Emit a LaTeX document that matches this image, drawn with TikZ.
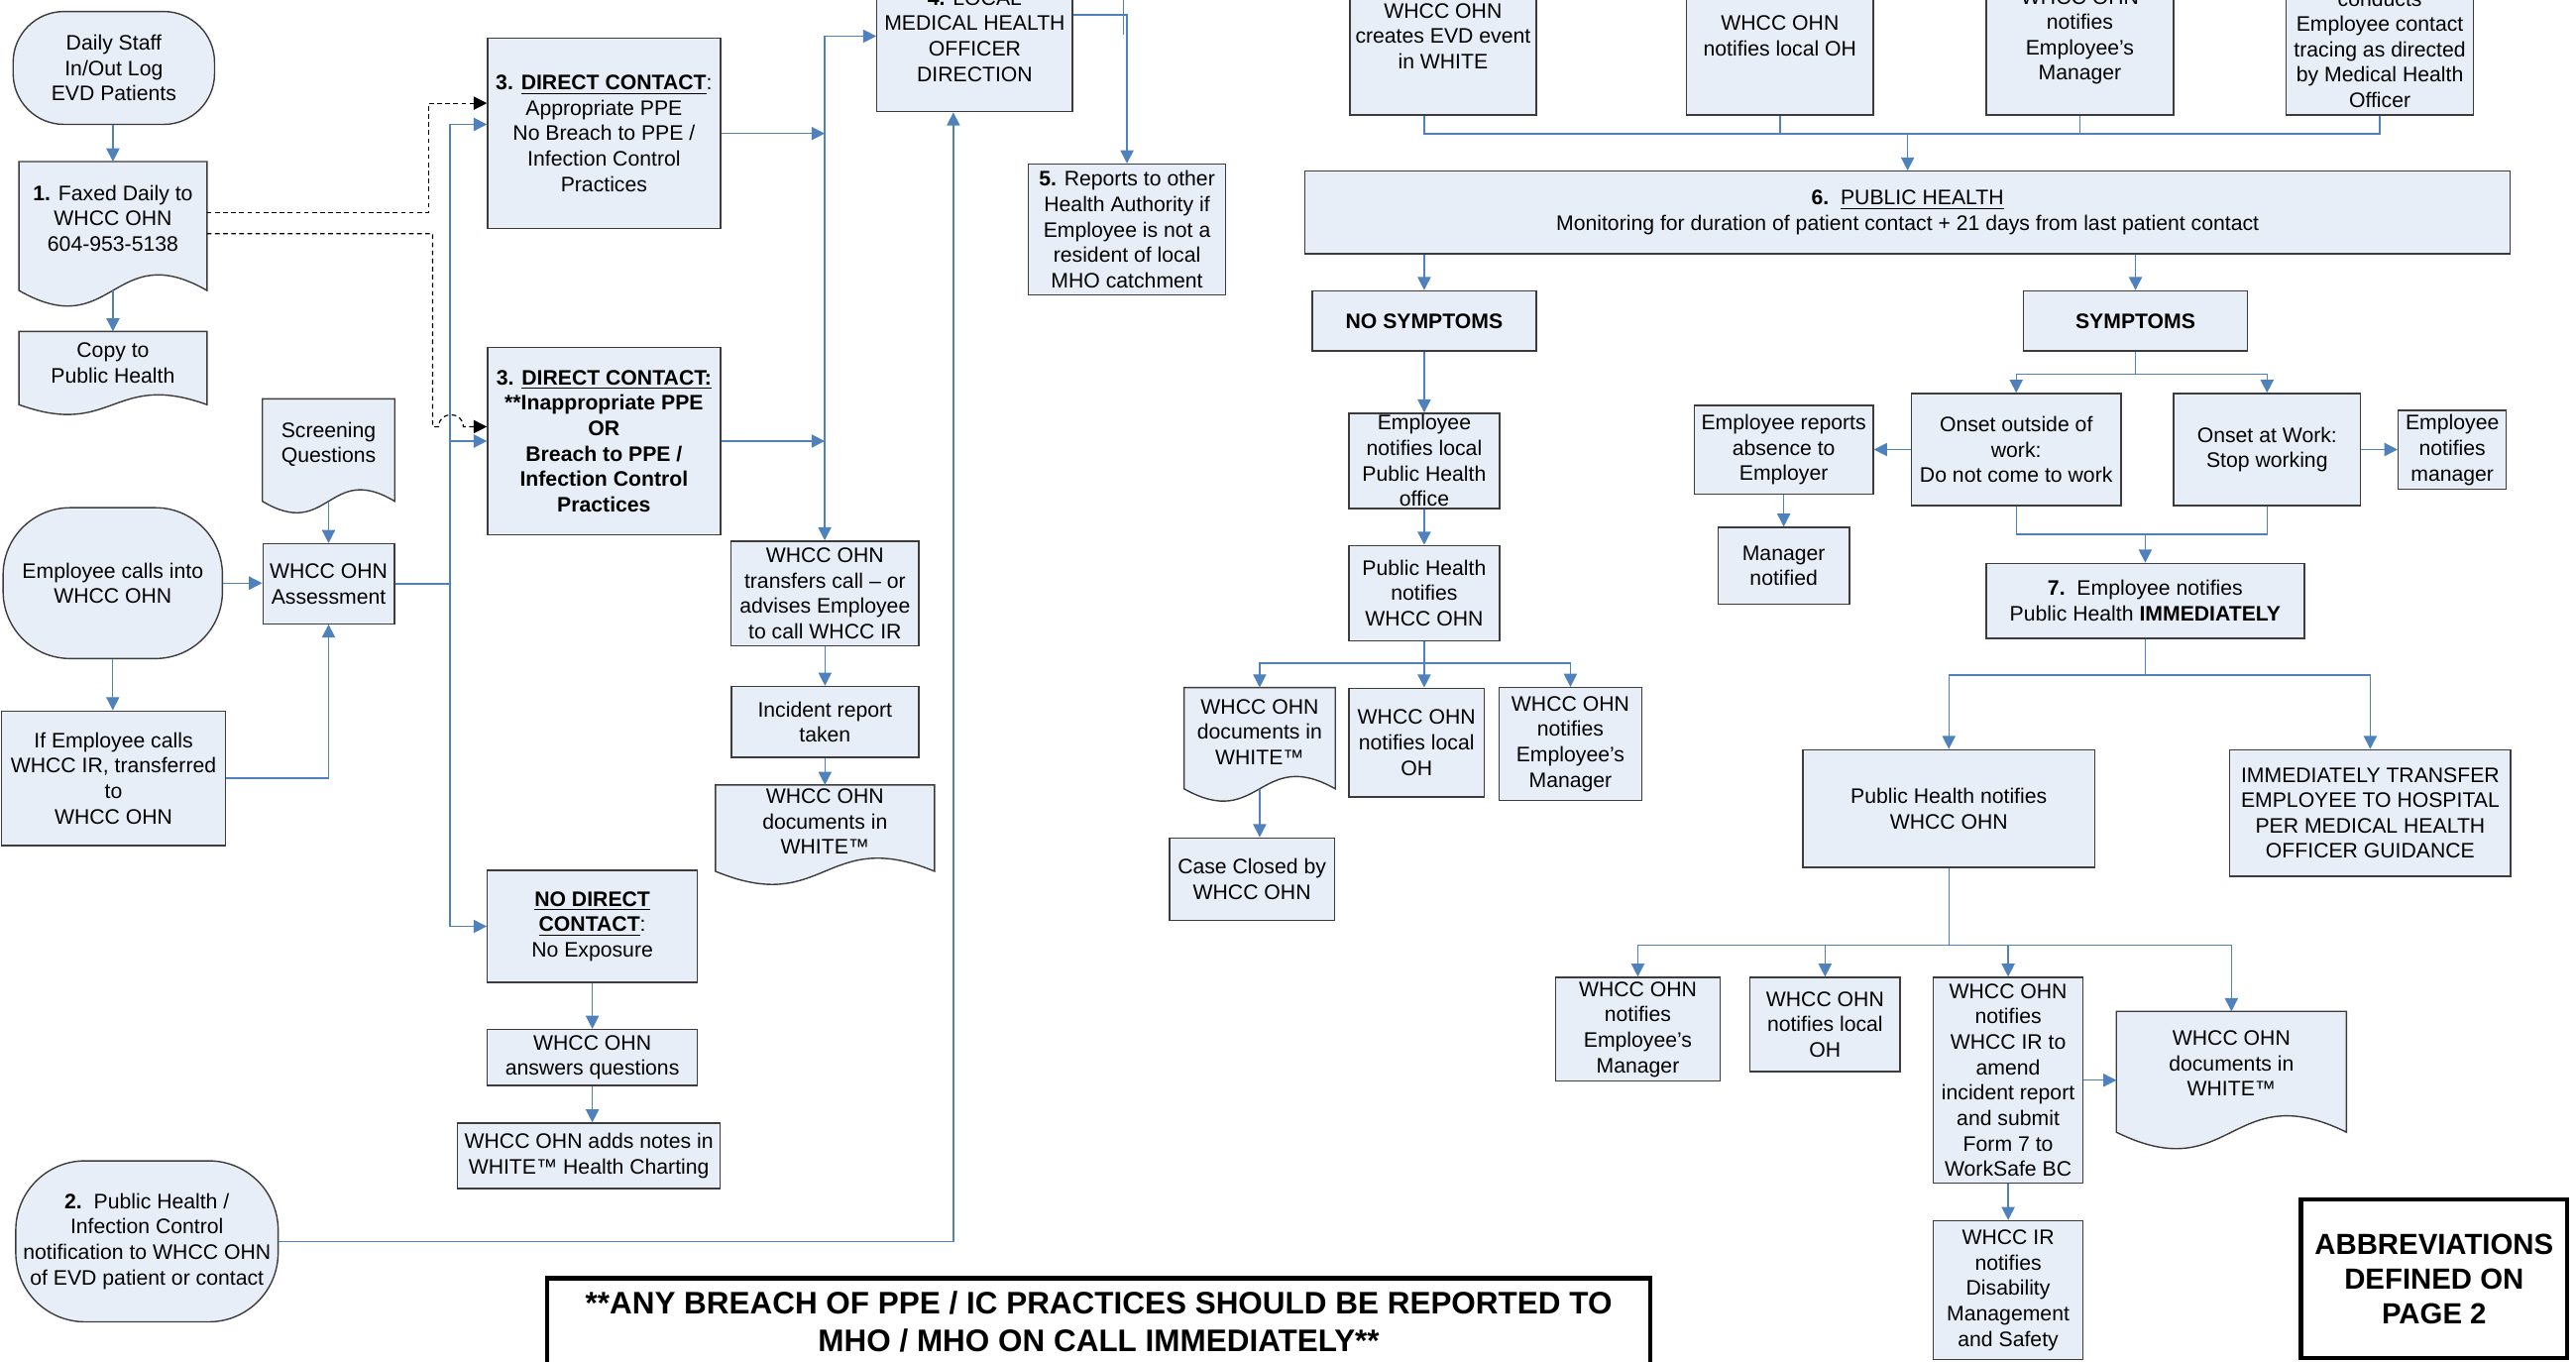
\documentclass[tikz,border=0pt]{standalone}
\usepackage{fontspec}
\setmainfont{Liberation Sans}
\usepackage{xcolor}
\usepackage{tikz}
\usetikzlibrary{arrows.meta,calc,backgrounds}
\definecolor{BoxFill}{HTML}{E8EEF8}
\definecolor{BoxEdge}{HTML}{3C3C3C}
\definecolor{LineBlue}{HTML}{4F81BD}
\newcommand{\nodefont}{\fontsize{9.1}{11}\selectfont}
% document shape: wavy bottom under a named node
\newcommand{\docoutline}[2]{%
  \begin{scope}[on background layer]
    \draw[docedge] (#1.north west) -- (#1.north east) -- ($(#1.south east)+(0,#2)$)
      .. controls ($(#1.south)+(0,{#2-3.46*#2})$) and ($(#1.south)+(0,{#2+3.46*#2})$) .. ($(#1.south west)+(0,#2)$) -- cycle;
  \end{scope}}

\begin{document}
\begin{tikzpicture}[
      x=0.25mm, y=-0.25mm,
      every node/.style={align=center, font=\nodefont, inner sep=1pt},
      wh/.style 2 args={minimum width=#1*0.25mm, minimum height=#2*0.25mm},
      box/.style={draw=BoxEdge, fill=BoxFill, line width=0.6pt},
      term/.style={box, rounded corners=#1},
      docnode/.style={},
      docedge/.style={draw=BoxEdge, fill=BoxFill, line width=0.6pt},
      heavy/.style={draw=black, fill=white, line width=2pt},
      link/.style={LineBlue, line width=0.6pt},
      arrow/.style={link, -{Triangle[length=2mm, width=2mm]}},
      dasharrow/.style={black, line width=0.5pt, dash pattern=on 2pt off 1.5pt, -{Triangle[length=2mm, width=2mm]}}
    ]
      \useasboundingbox (0,0) rectangle (1568,828.35);
      \clip (0,0) rectangle (1568,828.35);
      % Intake column
      \node[term=22pt, wh={122.6}{68.7}] (daily) at (69.3,41.35) {Daily Staff\\In/Out Log\\EVD Patients};
      \node[docnode, wh={113.9}{68.4}] (fax) at (68.75,132.8) {\textbf{1.} Faxed Daily to\\WHCC OHN\\604-953-5138};
      \docoutline{fax}{9.5}
      \node[docnode, wh={113.9}{38}] (copyph) at (68.75,221) {Copy to\\Public Health};
      \docoutline{copyph}{6}
      \node[docnode, wh={80}{54.8}] (screen) at (200,270.4) {Screening\\Questions};
      \docoutline{screen}{7}
      \node[term=29pt, wh={133.5}{91.8}] (caller) at (68.65,354.9) {Employee calls into\\WHCC OHN};
      \node[box, wh={80}{48.6}] (assess) at (200,355.3) {WHCC OHN\\Assessment};
      \node[box, wh={136.6}{81.9}] (ifcall) at (69.1,473.65) {If Employee calls\\WHCC IR, transferred\\to\\WHCC OHN};
      \node[term=30pt, wh={159.7}{98}] (phic) at (89.45,755.5) {\textbf{2.}\ \ Public Health /\\Infection Control\\notification to WHCC OHN\\of EVD patient or contact};
      % Contact boxes
      \node[box, wh={141.7}{115.9}] (s3a) at (367.65,81.25) {\textbf{3. \underline{DIRECT CONTACT}}:\\Appropriate PPE\\No Breach to PPE /\\Infection Control\\Practices};
      \node[box, wh={141.7}{114.3}, font=\nodefont\bfseries] (s3b) at (367.65,268.45) {3. \underline{DIRECT CONTACT:}\\**Inappropriate PPE\\OR\\Breach to PPE /\\Infection Control\\Practices};
      \node[box, wh={127.7}{68.2}] (ndc) at (360.55,563.8) {\textbf{\underline{NO DIRECT}}\\\textbf{\underline{CONTACT}}:\\No Exposure};
      \node[box, wh={127.7}{34}] (answers) at (360.55,643.6) {WHCC OHN\\answers questions};
      \node[box, wh={159.7}{39.7}] (notes) at (358.45,703.45) {WHCC OHN adds notes in\\WHITE™ Health Charting};
      % MHO column
      \node[box, wh={119}{92}] (lmho) at (593.3,22) {\textbf{4.} LOCAL\\MEDICAL HEALTH\\OFFICER\\DIRECTION};
      \node[box, wh={120}{79.6}] (rep5) at (686,139.7) {\textbf{5.} Reports to other\\Health Authority if\\Employee is not a\\resident of local\\MHO catchment};
      \node[box, wh={114.3}{63.7}] (transfers) at (502.15,361.15) {WHCC OHN\\transfers call – or\\advises Employee\\to call WHCC IR};
      \node[box, wh={114}{43.2}] (incident) at (502.15,439.4) {Incident report\\taken};
      \node[docnode, wh={132.8}{44}] (docs1) at (502.15,500) {WHCC OHN\\documents in\\WHITE™};
      \docoutline{docs1}{8}
      % Top row
      \node[box, wh={113.3}{96}] (evd) at (878.35,22) {WHCC OHN\\creates EVD event\\in WHITE};
      \node[box, wh={113.5}{96}] (loh1) at (1083.45,22) {WHCC OHN\\notifies local OH};
      \node[box, wh={114}{95}] (mgr1) at (1266,22.5) {WHCC OHN\\notifies\\Employee’s\\Manager};
      \node[box, wh={114}{80}] (trace) at (1448.6,30) {conducts\\Employee contact\\tracing as directed\\by Medical Health\\Officer};
      \node[box, wh={733.7}{50.3}] (ph6) at (1161.15,129.35) {\textbf{6.}\ \ \underline{PUBLIC HEALTH}\\Monitoring for duration of patient contact + 21 days from last patient contact};
      % No symptoms branch
      \node[box, wh={136.2}{36.6}, font=\nodefont\bfseries] (nosym) at (866.9,195.3) {NO SYMPTOMS};
      \node[box, wh={91.7}{57.9}, inner sep=0pt] (enotif) at (866.9,280.45) {Employee\\notifies local\\Public Health\\office};
      \node[box, wh={91.7}{58}] (phn1) at (866.9,361) {Public Health\\notifies\\WHCC OHN};
      \node[docnode, wh={91.5}{53.6}] (doc2) at (766.75,445.5) {WHCC OHN\\documents in\\WHITE™};
      \docoutline{doc2}{7.5}
      \node[box, wh={82.5}{66.3}] (loh2) at (862.25,452) {WHCC OHN\\notifies local\\OH};
      \node[box, wh={86.8}{68.5}] (mgr2) at (955.9,452.75) {WHCC OHN\\notifies\\Employee’s\\Manager};
      \node[box, wh={100.3}{50}] (closed) at (762.05,535) {Case Closed by\\WHCC OHN};
      % Symptoms branch
      \node[box, wh={136.3}{36.6}, font=\nodefont\bfseries] (sym) at (1299.85,195.3) {SYMPTOMS};
      \node[box, wh={108.9}{54}] (absence) at (1085.75,273.8) {Employee reports\\absence to\\Employer};
      \node[box, wh={127.5}{68.2}] (outside) at (1227.25,273.6) {Onset outside of\\work:\\Do not come to work};
      \node[box, wh={113.9}{68.2}] (atwork) at (1379.95,273.6) {Onset at Work:\\Stop working};
      \node[box, wh={65.8}{48.1}] (empnot) at (1492.7,273.85) {Employee\\notifies\\manager};
      \node[box, wh={80}{46.8}] (mgrnot) at (1085.75,344.4) {Manager\\notified};
      \node[box, wh={193.6}{45.6}] (imm7) at (1305.8,365.7) {\textbf{7.}\ \ Employee notifies\\Public Health \textbf{IMMEDIATELY}};
      \node[box, wh={177.5}{71.7}] (phn2) at (1186.25,492.15) {Public Health notifies\\WHCC OHN};
      \node[box, wh={170.9}{77}] (hosp) at (1442.75,494.8) {IMMEDIATELY TRANSFER\\EMPLOYEE TO HOSPITAL\\PER MEDICAL HEALTH\\OFFICER GUIDANCE};
      \node[box, wh={100.1}{63.1}] (mgr3) at (996.95,626.45) {WHCC OHN\\notifies\\Employee’s\\Manager};
      \node[box, wh={91.4}{57.3}] (loh3) at (1110.9,623.55) {WHCC OHN\\notifies local\\OH};
      \node[box, wh={90.9}{125.1}] (amend) at (1222.35,657.45) {WHCC OHN\\notifies\\WHCC IR to\\amend\\incident report\\and submit\\Form 7 to\\WorkSafe BC};
      \node[docnode, wh={139.5}{63}] (doc3) at (1358.25,647.3) {WHCC OHN\\documents in\\WHITE™};
      \docoutline{doc3}{10}
      \node[box, wh={90.9}{84.6}] (dms) at (1222.35,785.3) {WHCC IR\\notifies\\Disability\\Management\\and Safety};
      % Notes
      \node[heavy, wh={671.6}{53.2}, font=\fontsize{13.5}{16.3}\selectfont\bfseries] (breach) at (668.8,804.4) {**ANY BREACH OF PPE / IC PRACTICES SHOULD BE REPORTED TO\\MHO / MHO ON CALL IMMEDIATELY**};
      \node[heavy, wh={162}{96.5}, font=\fontsize{12.6}{15}\selectfont\bfseries] (abbr) at (1481.6,778.25) {ABBREVIATIONS\\DEFINED ON\\PAGE 2};
      % Arrows, intake
      \draw[arrow] (fax.north |- daily.south) -- (fax.north);
      \draw[arrow] ($(fax.south)+(0,9.5)$) -- (copyph.north);
      \draw[arrow] ($(screen.south)+(0,7)$) -- (assess.north);
      \draw[arrow] (caller.east) -- (caller.east -| assess.west);
      \draw[arrow] (caller.south) -- (caller.south |- ifcall.north);
      \draw[arrow] (ifcall.east) -| (assess.south);
      \coordinate (trunkA) at (274,355.3);
      \draw[link] (assess.east) -- (trunkA);
      \draw[arrow] (trunkA) |- ($(s3a.west)+(0,-5.55)$);
      \draw[arrow] (trunkA) |- (s3b.west);
      \draw[arrow] (trunkA) |- (ndc.west);
      % Fax to contact boxes
      \draw[dasharrow] ($(fax.east)+(0,-3.5)$) -- (260.8,129.3) |- ($(s3a.west)+(0,-18.45)$);
      \draw[dasharrow] ($(fax.east)+(0,9.4)$) -- (263.3,142.2) -- (263.3,259.7) -- (267,259.7)
        .. controls (267,250) and (282,250) .. (282,259.7) -- ($(s3b.west)+(0,-8.75)$);
      % Arrows, contact
      \coordinate (trunkB) at (502,268.45);
      \draw[arrow] (s3a.east) -- (s3a.east -| trunkB);
      \draw[arrow] (s3b.east) -- (trunkB);
      \draw[arrow] (trunkB) |- (lmho.west);
      \draw[arrow] (trunkB) -- (trunkB |- transfers.north);
      \draw[arrow] (transfers) -- (incident);
      \draw[arrow] (incident) -- (docs1);
      \draw[arrow] (ndc) -- (answers);
      \draw[arrow] (answers.south) -- (answers.south |- notes.north);
      \draw[arrow] (phic.east) -| ($(lmho.south)+(-13,0)$);
      \draw[arrow] ($(lmho.east)+(0,-13)$) -| (rep5.north);
      \coordinate (stubtop) at (684,-10);
      \draw[link] (stubtop) -- (684,21);
      % Arrows, public health
      \coordinate (mergeA) at (1161.15,81.5);
      \draw[link] ($(evd.south)+(-11.5,0)$) |- (mergeA);
      \draw[link] (loh1.south) |- (mergeA);
      \draw[link] (mgr1.south) |- (mergeA);
      \draw[link] (trace.south) |- (mergeA);
      \draw[arrow] (mergeA) -- (ph6.north);
      \draw[arrow] (ph6.south -| nosym.north) -- (nosym.north);
      \draw[arrow] (ph6.south -| sym.north) -- (sym.north);
      \draw[arrow] (nosym) -- (enotif);
      \draw[arrow] (enotif) -- (phn1);
      \coordinate (brA) at (866.9,403.6);
      \draw[link] (phn1.south) -- (brA);
      \draw[arrow] (brA) -| (doc2.north);
      \draw[arrow] (brA) -- (brA |- loh2.north);
      \draw[arrow] (brA) -| (mgr2.north);
      \coordinate (doc2out) at ($(doc2.south)+(0,7.5)$);
      \draw[arrow] (doc2out) -- (doc2out |- closed.north);
      % Arrows, symptoms
      \coordinate (brB) at (1299.85,227.6);
      \draw[link] (sym.south) -- (brB);
      \draw[arrow] (brB) -| (outside.north);
      \draw[arrow] (brB) -| (atwork.north);
      \draw[arrow] (outside.west) -- (outside.west -| absence.east);
      \draw[arrow] (atwork.east) -- (atwork.east -| empnot.west);
      \draw[arrow] (absence) -- (mgrnot);
      \coordinate (mergeB) at (1305.8,325.2);
      \draw[link] (outside.south) |- (mergeB);
      \draw[link] (atwork.south) |- (mergeB);
      \draw[arrow] (mergeB) -- (imm7.north);
      \coordinate (brC) at (1305.8,410.8);
      \draw[link] (imm7.south) -- (brC);
      \draw[arrow] (brC) -| (phn2.north);
      \draw[arrow] (brC) -| (hosp.north);
      \coordinate (brD) at (1186.25,575.2);
      \draw[link] (phn2.south) -- (brD);
      \draw[arrow] (brD) -| (mgr3.north);
      \draw[arrow] (brD) -| (loh3.north);
      \draw[arrow] (brD) -| (amend.north);
      \draw[arrow] (brD) -| (doc3.north);
      \draw[arrow] (amend.east) -- (amend.east -| doc3.west);
      \draw[arrow] (amend) -- (dms);
    \end{tikzpicture}
\end{document}
